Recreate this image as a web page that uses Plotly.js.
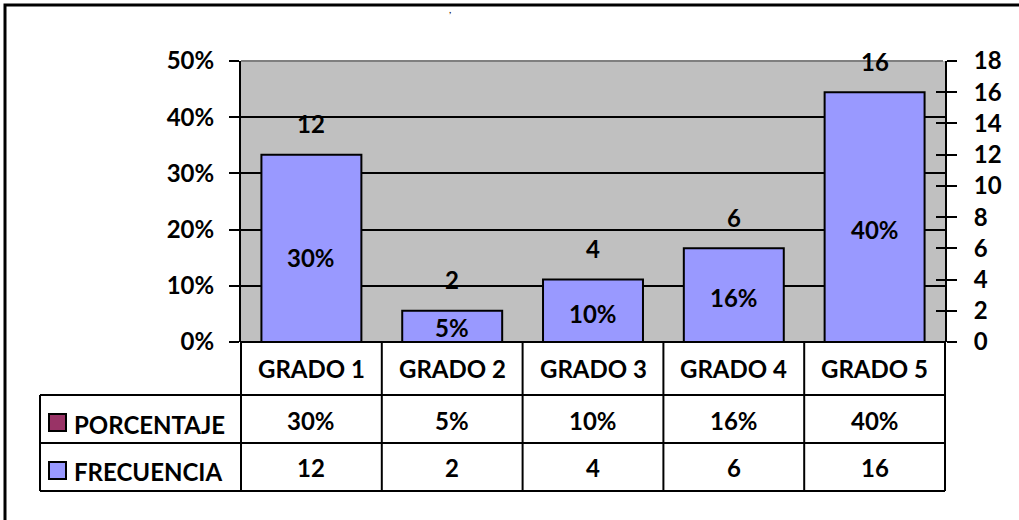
<!DOCTYPE html>
<html>
<head>
<meta charset="utf-8">
<script src="https://cdn.plot.ly/plotly-3.0.1.min.js"></script>
<style>html,body{margin:0;padding:0;background:#fff;}#chart{width:1019px;height:520px;}</style>
</head>
<body>
<div id="chart"></div>
<script>
// ---- data ----
const categories = ["GRADO 1", "GRADO 2", "GRADO 3", "GRADO 4", "GRADO 5"];
const porcentaje = [0.30, 0.05, 0.10, 0.16, 0.40];
const porcentajeLabels = ["30%", "5%", "10%", "16%", "40%"];
const frecuencia = [12, 2, 4, 6, 16];
const seriesNames = ["PORCENTAJE", "FRECUENCIA"];
const seriesColors = ["#993366", "#9999FF"];

// ---- layout helpers (pixel -> paper) ----
const L = 241, R = 945, T = 61, B = 342;
const W = 1019, H = 520;
const px = x => (x - L) / (R - L);
const py = y => (B - y) / (B - T);
const FONT = "Lato, 'Open Sans', sans-serif";
const FS = 24;

const idx = categories.map((c, i) => i);

const traces = [
  {
    type: "bar", x: idx, y: frecuencia, yaxis: "y2", name: seriesNames[1],
    marker: {color: seriesColors[1], line: {color: "#000", width: 2}},
    width: 0.71, hoverinfo: "skip", showlegend: false
  }
];

const shapes = [];
const annotations = [];
function line(x0, y0, x1, y1, color, w) {
  shapes.push({type: "line", xref: "paper", yref: "paper", x0: px(x0), y0: py(y0), x1: px(x1), y1: py(y1),
    line: {color: color || "#000", width: w || 2}, layer: "above"});
}

// plot area top border (gray)
line(L, T, 943, T, "#7f7f7f", 2);
// x axis line
line(L, B, R, B);
// left axis extension into table
line(L, B, L, 491);
// right axis extension into table
line(R, B, R, 491);
// table lines
const colW = (R - L) / categories.length;
for (let i = 1; i < categories.length; i++) line(L + i * colW, B, L + i * colW, 491);
line(40, 395, R, 395);
line(40, 443, R, 443);
line(40, 491, R, 491);
line(40, 395, 40, 491);

// outer border
shapes.push({type: "rect", xref: "paper", yref: "paper", x0: px(5), y0: py(5), x1: px(1030), y1: py(530),
  line: {color: "#000", width: 3}, fillcolor: "rgba(0,0,0,0)", layer: "below"});

// legend keys
function key(y0, color) {
  shapes.push({type: "rect", xref: "paper", yref: "paper", x0: px(49), x1: px(66), y0: py(y0), y1: py(y0 + 17),
    fillcolor: color, line: {color: "#000", width: 2}, layer: "above"});
}
key(414, seriesColors[0]);
key(462, seriesColors[1]);

const txt = (t, x, y, opts) => Object.assign({text: t, x: x, y: y, showarrow: false,
  font: {family: FONT, size: FS, color: "#000", weight: "bold"}}, opts || {});

// row labels
annotations.push(txt(seriesNames[0], px(72), py(424), {xref: "paper", yref: "paper", xanchor: "left", yanchor: "middle"}));
annotations.push(txt(seriesNames[1], px(72), py(471), {xref: "paper", yref: "paper", xanchor: "left", yanchor: "middle"}));

categories.forEach((c, i) => {
  annotations.push(txt(c, i, py(368), {xref: "x", yref: "paper", yanchor: "middle"}));
  annotations.push(txt(porcentajeLabels[i], i, py(420), {xref: "x", yref: "paper", yanchor: "middle"}));
  annotations.push(txt(String(frecuencia[i]), i, py(467), {xref: "x", yref: "paper", yanchor: "middle"}));
  // data labels on chart
  annotations.push(txt(String(frecuencia[i]), i, frecuencia[i], {xref: "x", yref: "y2", yanchor: "middle", yshift: 31}));
  annotations.push(txt(porcentajeLabels[i], i, porcentaje[i] / 2, {xref: "x", yref: "y", yanchor: "middle"}));
});

// title fragment at top
annotations.push({text: ",", x: px(447), y: py(1), xref: "paper", yref: "paper", showarrow: false,
  font: {family: FONT, size: 10, color: "#000"}, yanchor: "top"});

const tickFont = {family: FONT, size: FS, color: "#000", weight: "bold"};

const layout = {
  width: W, height: H,
  margin: {l: L, r: W - R, t: T, b: H - B, pad: 0},
  paper_bgcolor: "#ffffff",
  plot_bgcolor: "#C0C0C0",
  barmode: "overlay",
  showlegend: false,
  font: {family: FONT, size: FS, color: "#000"},
  xaxis: {range: [-0.5, 4.5], showticklabels: false, ticks: "", showgrid: false, zeroline: false, showline: false, fixedrange: true},
  yaxis: {range: [0, 0.5], dtick: 0.1, tickformat: ".0%", ticks: "outside", ticklen: 10, tickwidth: 2, tickcolor: "#000",
    showline: true, linewidth: 2, linecolor: "#000", showgrid: true, gridcolor: "#000", gridwidth: 2, zeroline: false,
    tickfont: tickFont, ticklabelstandoff: 10, fixedrange: true},
  yaxis2: {range: [0, 18], dtick: 2, overlaying: "y", side: "right", ticks: "outside", ticklen: 10, tickwidth: 2, tickcolor: "#000",
    showline: true, linewidth: 2, linecolor: "#000", showgrid: false, zeroline: false, tickfont: tickFont, ticklabelstandoff: 12, fixedrange: true},
  yaxis3: {range: [0, 18], dtick: 2, overlaying: "y", side: "right", ticks: "inside", ticklen: 9, tickwidth: 2, tickcolor: "#000",
    showline: false, showgrid: false, zeroline: false, showticklabels: false, fixedrange: true},
  shapes: shapes,
  annotations: annotations
};

// invisible helper trace so the inner tick axis renders
traces.push({type: "scatter", x: [0], y: [0], yaxis: "y3", mode: "markers", marker: {opacity: 0}, hoverinfo: "skip", showlegend: false});

Plotly.newPlot("chart", traces, layout, {staticPlot: true, displayModeBar: false});
</script>
</body>
</html>
